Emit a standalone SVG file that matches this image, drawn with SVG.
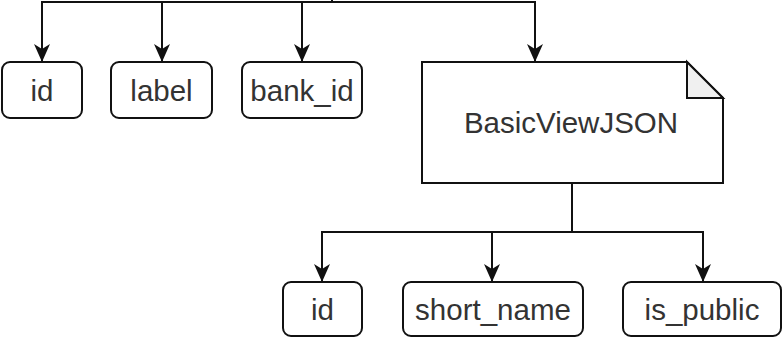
<svg xmlns="http://www.w3.org/2000/svg" width="782" height="337" viewBox="0 0 782 337">
  <style>
    .box { fill: #ffffff; stroke: #111111; stroke-width: 2; }
    .fold { fill: #f0f0f0; stroke: #111111; stroke-width: 2; stroke-linejoin: miter; }
    .edge { fill: none; stroke: #111111; stroke-width: 2; marker-end: url(#arrow); }
    text { font-family: "Liberation Sans", Arial, sans-serif; font-size: 29.5px; fill: #333333; text-anchor: middle; }
  </style>
  <defs>
    <marker id="arrow" viewBox="0 0 18 18" refX="18" refY="9" markerWidth="18" markerHeight="18" markerUnits="userSpaceOnUse" orient="auto">
      <path d="M0,1 L18,9 L0,17 L5,9 Z" fill="#111111"/>
    </marker>
  </defs>

  <rect width="782" height="337" fill="#ffffff"/>

  <g id="connectors">
    <path class="edge" d="M332,0 V2 H42 V62"/>
    <path class="edge" d="M332,0 V2 H162 V62"/>
    <path class="edge" d="M332,0 V2 H302 V62"/>
    <path class="edge" d="M332,0 V2 H535 V62"/>
    <path class="edge" d="M572,183 V232 H322 V282"/>
    <path class="edge" d="M572,183 V232 H492 V282"/>
    <path class="edge" d="M572,183 V232 H703 V282"/>
  </g>

  <g id="node-id">
    <rect class="box" x="2" y="62" width="80" height="56" rx="8"/>
    <text x="42" y="101">id</text>
  </g>
  <g id="node-label">
    <rect class="box" x="111" y="62" width="101" height="56" rx="8"/>
    <text x="161.5" y="101">label</text>
  </g>
  <g id="node-bank-id">
    <rect class="box" x="242" y="62" width="120" height="56" rx="8"/>
    <text x="302" y="101">bank_id</text>
  </g>

  <g id="node-basic-view-json">
    <path class="box" d="M422,62 H687 L723,98 V183 H422 Z"/>
    <path class="fold" d="M687,62 V98 H723 Z"/>
    <text x="571" y="133">BasicViewJSON</text>
  </g>

  <g id="node-view-id">
    <rect class="box" x="283" y="282" width="79" height="54" rx="8"/>
    <text x="322.5" y="320">id</text>
  </g>
  <g id="node-short-name">
    <rect class="box" x="403" y="282" width="180" height="54" rx="8"/>
    <text x="493" y="320">short_name</text>
  </g>
  <g id="node-is-public">
    <rect class="box" x="623" y="282" width="158" height="54" rx="8"/>
    <text x="702" y="320">is_public</text>
  </g>
</svg>
